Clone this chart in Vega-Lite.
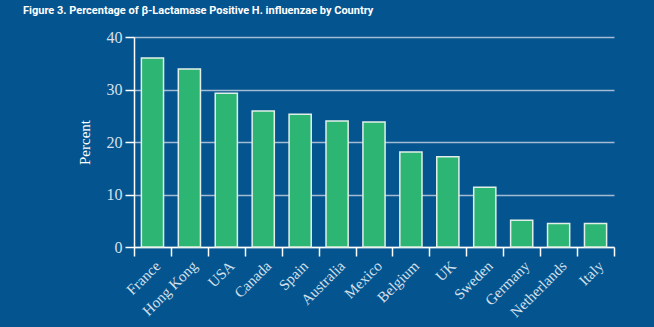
{
  "$schema": "https://vega.github.io/schema/vega-lite/v6.json",
  "width": 480,
  "height": 210,
  "autosize": "none",
  "padding": {"left": 134, "top": 37, "right": 40, "bottom": 80},
  "background": "#04548f",
  "title": {
    "text": "Figure 3. Percentage of β-Lactamase Positive H. influenzae by Country",
    "anchor": "start",
    "frame": "group",
    "orient": "top",
    "offset": 0,
    "dx": -111,
    "dy": -4,
    "baseline": "alphabetic",
    "font": "Roboto",
    "fontSize": 11,
    "fontWeight": "bold",
    "color": "#ffffff"
  },
  "config": {
    "view": {"stroke": null},
    "axis": {
      "labelFont": "Liberation Serif",
      "titleFont": "Liberation Serif"
    }
  },
  "data": {
    "values": [
      {"country": "France", "percent": 36.0},
      {"country": "Hong Kong", "percent": 33.9},
      {"country": "USA", "percent": 29.3},
      {"country": "Canada", "percent": 25.9},
      {"country": "Spain", "percent": 25.3},
      {"country": "Australia", "percent": 24.0},
      {"country": "Mexico", "percent": 23.8},
      {"country": "Belgium", "percent": 18.1},
      {"country": "UK", "percent": 17.2},
      {"country": "Sweden", "percent": 11.4},
      {"country": "Germany", "percent": 5.1},
      {"country": "Netherlands", "percent": 4.5},
      {"country": "Italy", "percent": 4.5}
    ]
  },
  "mark": {
    "type": "bar",
    "width": {"band": 0.6},
    "fill": "#2db673",
    "stroke": "#e2efe8",
    "strokeWidth": 1.5
  },
  "encoding": {
    "x": {
      "field": "country",
      "type": "nominal",
      "sort": null,
      "scale": {"paddingInner": 0, "paddingOuter": 0},
      "axis": {
        "title": null,
        "labelAngle": -45,
        "labelFontSize": 15,
        "labelColor": "#d4e0ec",
        "labelPadding": 2,
        "domainColor": "#ffffff",
        "domainWidth": 1.5,
        "tickColor": "#ffffff",
        "tickWidth": 1.5,
        "tickSize": 9,
        "tickBand": "extent"
      }
    },
    "y": {
      "field": "percent",
      "type": "quantitative",
      "scale": {"domain": [0, 40], "nice": false},
      "axis": {
        "title": "Percent",
        "titleColor": "#ffffff",
        "titleFontSize": 15,
        "titleFontWeight": "normal",
        "titlePadding": 14,
        "values": [0, 10, 20, 30, 40],
        "labelFontSize": 16,
        "labelColor": "#d4e0ec",
        "labelPadding": 3,
        "domainColor": "#ffffff",
        "domainWidth": 1.5,
        "tickColor": "#ffffff",
        "tickWidth": 1.5,
        "tickSize": 9,
        "grid": true,
        "gridColor": "#a3bcd4",
        "gridWidth": 1.5
      }
    }
  }
}
